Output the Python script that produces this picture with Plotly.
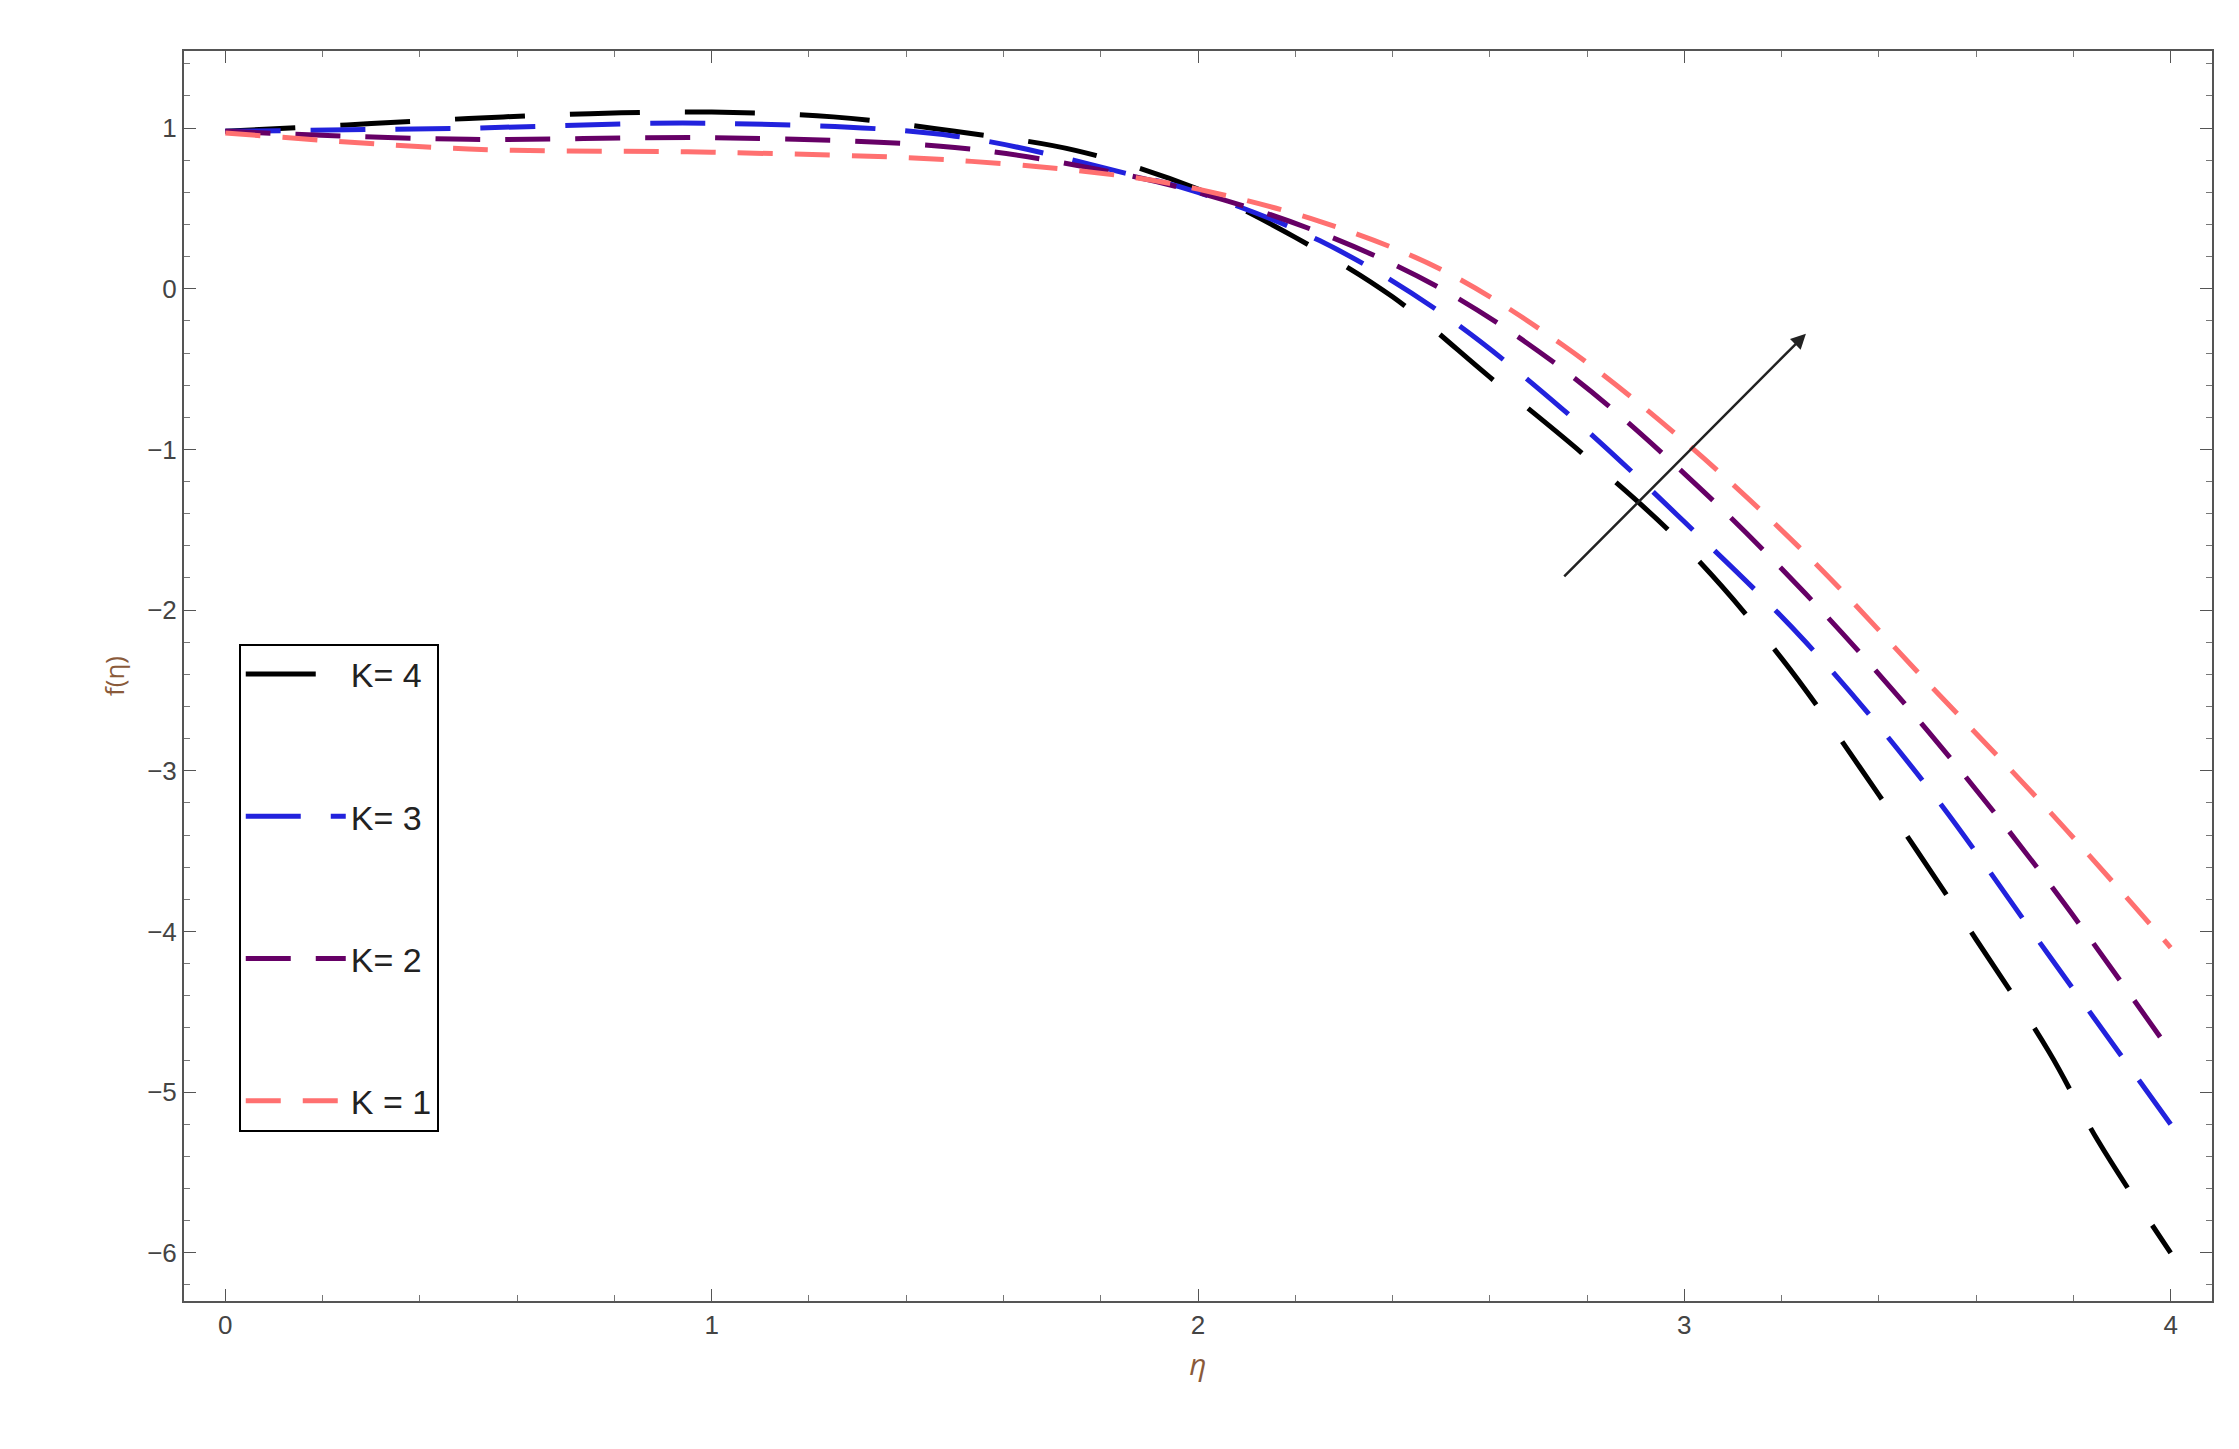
import plotly.graph_objects as go

eta4 = [0, 0.25, 0.5, 0.75, 1, 1.25, 1.5, 1.75, 2, 2.2, 2.4, 2.6, 2.8, 3, 3.2, 3.4, 3.6, 3.75, 3.85, 4]
f4 = [0.98, 1.02, 1.06, 1.09, 1.1, 1.07, 0.98, 0.86, 0.62, 0.32, -0.05, -0.55, -1.05, -1.6, -2.3, -3.15, -4.05, -4.75, -5.3, -6.0]
eta3 = [0, 0.5, 1, 1.5, 1.85, 2, 2.25, 2.5, 2.75, 3, 3.25, 3.5, 3.75, 4]
f3 = [0.98, 1.0, 1.03, 0.95, 0.72, 0.6, 0.3, -0.15, -0.75, -1.45, -2.2, -3.1, -4.15, -5.2]
eta2 = [0, 0.5, 1, 1.5, 1.8, 2, 2.25, 2.5, 2.75, 3, 3.25, 3.5, 3.75, 4]
f2 = [0.98, 0.93, 0.94, 0.88, 0.74, 0.6, 0.35, 0.0, -0.5, -1.15, -1.9, -2.75, -3.7, -4.75]
eta1 = [0, 0.5, 1, 1.5, 1.85, 2, 2.25, 2.5, 2.75, 3, 3.25, 3.5, 3.75, 4]
f1 = [0.97, 0.87, 0.85, 0.8, 0.7, 0.62, 0.42, 0.12, -0.35, -0.95, -1.65, -2.45, -3.25, -4.1]

labels = ["K= 4", "K= 3", "K= 2", "K = 1"]
colors = ["black", "#2222dd", "#660066", "#ff7070"]
dashes = ["70px,45px", "55px,30px", "45px,25px", "35px,22px"]

fig = go.Figure()
for i, (x, y, lab, c, d) in enumerate(zip([eta4, eta3, eta2, eta1], [f4, f3, f2, f1], labels, colors, dashes)):
    fig.add_trace(go.Scatter(x=x, y=y, mode="lines", name=lab, legendgroup=f"g{i}",
                             line=dict(color=c, dash=d, width=5, shape="spline")))

fig.add_annotation(x=3.25, y=-0.28, ax=2.75, ay=-1.8, xref="x", yref="y", axref="x", ayref="y",
                   showarrow=True, arrowhead=2, arrowsize=1.2, arrowwidth=2.5, arrowcolor="#222", text="")

axstyle = dict(showline=True, linecolor="#555", linewidth=2, mirror="ticks", ticks="inside", ticklen=12,
               tickcolor="#555", showgrid=False, zeroline=False,
               minor=dict(ticks="inside", ticklen=6, tickcolor="#777"),
               tickfont=dict(family="Liberation Sans", size=26, color="#444"))
fig.update_xaxes(range=[-0.085, 4.085], tickvals=[0, 1, 2, 3, 4], minor_dtick=0.2,
                 title=dict(text="<i>η</i>", font=dict(size=30, color="#8a5a3a")), **axstyle)
fig.update_yaxes(range=[-6.3, 1.48], tickvals=[1, 0, -1, -2, -3, -4, -5, -6],
                 ticktext=["1", "0", "−1", "−2", "−3", "−4", "−5", "−6"], minor_dtick=0.2,
                 title=dict(text="f(η)", font=dict(size=26, color="#8a5a3a")), **axstyle)

fig.update_layout(width=2239, height=1449, margin=dict(l=176, r=35, t=43, b=156),
                  plot_bgcolor="white", paper_bgcolor="white",
                  legend=dict(x=0.027, y=0.526, xanchor="left", yanchor="top", bordercolor="black", borderwidth=2,
                              bgcolor="white", font=dict(family="Liberation Sans", size=34, color="#222"),
                              tracegroupgap=95, itemwidth=100, entrywidth=330,
                              ))
fig.write_html("out.html")
